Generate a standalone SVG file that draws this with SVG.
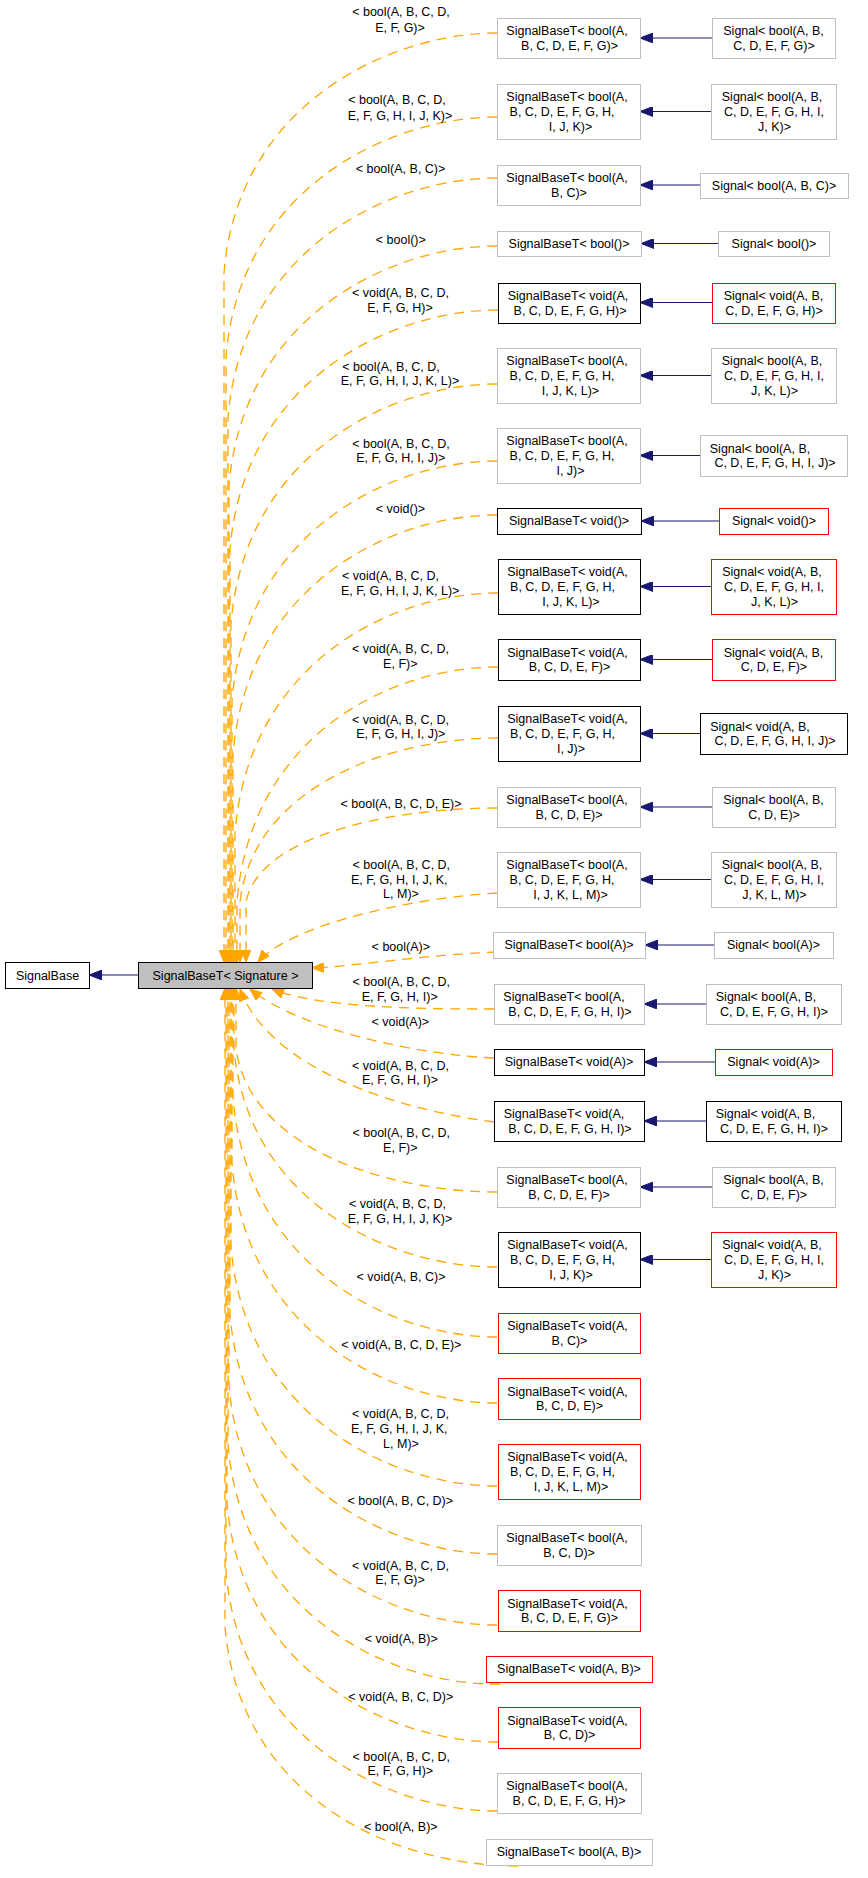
<svg xmlns="http://www.w3.org/2000/svg" width="868" height="1878" viewBox="0 0 868 1878">
<style>
text{font-family:"Liberation Sans",Arial,sans-serif;font-size:12.5px;fill:#000;text-anchor:middle}
rect{fill:#fff;stroke-width:1}
.g rect{stroke:#bfbfbf}
.k rect{stroke:#000}
.r rect{stroke:#ff0000}
.m rect{fill:#bfbfbf;stroke:#000}
.d path{fill:none;stroke:#ffa500;stroke-width:1.3;stroke-dasharray:10,7;marker-end:url(#oa)}
.h path{fill:none;stroke:#191970;stroke-width:1.2;marker-end:url(#na)}
</style>
<defs>
<marker id="oa" viewBox="0 0 12 10" refX="12" refY="5" markerWidth="12" markerHeight="10" orient="auto" markerUnits="userSpaceOnUse"><path d="M0,0 L12,5 L0,10 z" fill="#ffa500" stroke="#ffa500" stroke-width="1"/></marker>
<marker id="na" viewBox="0 0 13 10" refX="13" refY="5" markerWidth="13" markerHeight="10" orient="auto" markerUnits="userSpaceOnUse"><path d="M0,0 L13,5 L0,10 z" fill="#191970" stroke="#191970" stroke-width="1"/></marker>
</defs>
<rect x="0" y="0" width="868" height="1878" fill="#fff" stroke="none"/>
<g id="connectors">
<g class="d">
<path d="M497,33 C389,33 237,105 224,273 L224,962"/>
<path d="M497,117 C389,117 239,189 226,357 L226,962"/>
<path d="M497,178 C389,178 241,250 228,418 L228,962"/>
<path d="M497,246 C389,246 242,318 229,486 L229,962"/>
<path d="M498,310 C389,310 243,382 230,550 L230,962"/>
<path d="M497,384 C389,384 244,456 231,624 L231,962"/>
<path d="M497,461 C389,461 245,533 232,701 L232,962"/>
<path d="M497,515 C389,515 246,587 233,755 L233,962"/>
<path d="M498,593 C389,593 248,665 235,833 L235,962"/>
<path d="M498,667 C389,667 250,737 237,902 L237,962"/>
<path d="M498,738 C389,738 253,787 240,902 L240,962"/>
<path d="M497,808 C389,808 259,836 246,902 L246,962"/>
<path d="M497,893 C410,898 290,925 258,962"/>
<path d="M497,952 C420,955 360,966 312,968"/>
<path d="M494,1009 C420,1009 320,1008 272,989"/>
<path d="M494,1058 C420,1055 300,1030 250,989"/>
<path d="M494,1122 C400,1110 270,1070 240,989"/>
<path d="M497,1192 C389,1192 249,1149 236,1048 L236,988"/>
<path d="M497,1267 C389,1267 247,1201 234,1048 L234,988"/>
<path d="M497,1337 C389,1337 246,1265 233,1097 L233,988"/>
<path d="M497,1403 C389,1403 245,1331 232,1163 L232,988"/>
<path d="M497,1486 C389,1486 244,1414 231,1246 L231,988"/>
<path d="M497,1554 C389,1554 243,1482 230,1314 L230,988"/>
<path d="M497,1625 C389,1625 242,1553 229,1385 L229,988"/>
<path d="M500,1684 C389,1686 241,1612 228,1444 L228,988"/>
<path d="M498,1742 C389,1742 240,1670 227,1502 L227,988"/>
<path d="M497,1811 C389,1811 239,1739 226,1571 L226,988"/>
<path d="M518,1866 C389,1866 238,1794 225,1626 L225,988"/>
</g>
<g class="h">
<path d="M138,975 L89,975"/>
<path d="M712,38 L640,38"/>
<path d="M711,111.5 L640,111.5"/>
<path d="M700,185 L640,185"/>
<path d="M718,243.5 L641,243.5"/>
<path d="M712,302.5 L640,302.5"/>
<path d="M711,375.5 L640,375.5"/>
<path d="M700,455.5 L640,455.5"/>
<path d="M719,521 L641,521"/>
<path d="M711,586.5 L640,586.5"/>
<path d="M712,659.5 L640,659.5"/>
<path d="M700,733.5 L640,733.5"/>
<path d="M712,807 L640,807"/>
<path d="M711,879.5 L640,879.5"/>
<path d="M714,945 L645,945"/>
<path d="M706,1004 L644,1004"/>
<path d="M715,1062 L644,1062"/>
<path d="M706,1121 L644,1121"/>
<path d="M712,1187 L640,1187"/>
<path d="M711,1259.5 L640,1259.5"/>
</g>
<g id="labels">
<text x="401" y="16.2">&lt; bool(A, B, C, D,</text><text x="400" y="31.5">E, F, G)&gt;</text>
<text x="397" y="104.2">&lt; bool(A, B, C, D,</text><text x="400" y="119.5">E, F, G, H, I, J, K)&gt;</text>
<text x="400.5" y="172.8">&lt; bool(A, B, C)&gt;</text>
<text x="400.8" y="243.8">&lt; bool()&gt;</text>
<text x="400.5" y="297.2">&lt; void(A, B, C, D,</text><text x="400" y="311.5">E, F, G, H)&gt;</text>
<text x="391" y="370.5">&lt; bool(A, B, C, D,</text><text x="400" y="385.1">E, F, G, H, I, J, K, L)&gt;</text>
<text x="401" y="447.5">&lt; bool(A, B, C, D,</text><text x="400.8" y="462">E, F, G, H, I, J)&gt;</text>
<text x="400.5" y="512.5">&lt; void()&gt;</text>
<text x="390.5" y="580.3">&lt; void(A, B, C, D,</text><text x="400.2" y="595.3">E, F, G, H, I, J, K, L)&gt;</text>
<text x="400.5" y="652.5">&lt; void(A, B, C, D,</text><text x="400.3" y="667.5">E, F)&gt;</text>
<text x="400.5" y="723.7">&lt; void(A, B, C, D,</text><text x="400.8" y="738.2">E, F, G, H, I, J)&gt;</text>
<text x="401" y="807.8">&lt; bool(A, B, C, D, E)&gt;</text>
<text x="401.3" y="868.8">&lt; bool(A, B, C, D,</text><text x="399.2" y="883.7">E, F, G, H, I, J, K,</text><text x="401" y="898.2">L, M)&gt;</text>
<text x="400.8" y="950.8">&lt; bool(A)&gt;</text>
<text x="401.3" y="985.8">&lt; bool(A, B, C, D,</text><text x="399.7" y="1000.8">E, F, G, H, I)&gt;</text>
<text x="400.3" y="1025.7">&lt; void(A)&gt;</text>
<text x="400.5" y="1069.5">&lt; void(A, B, C, D,</text><text x="400" y="1084.2">E, F, G, H, I)&gt;</text>
<text x="401.3" y="1137">&lt; bool(A, B, C, D,</text><text x="400.3" y="1151.5">E, F)&gt;</text>
<text x="397.5" y="1207.8">&lt; void(A, B, C, D,</text><text x="400" y="1222.5">E, F, G, H, I, J, K)&gt;</text>
<text x="401" y="1281.2">&lt; void(A, B, C)&gt;</text>
<text x="401.3" y="1349.2">&lt; void(A, B, C, D, E)&gt;</text>
<text x="400.5" y="1417.8">&lt; void(A, B, C, D,</text><text x="399.2" y="1432.8">E, F, G, H, I, J, K,</text><text x="401" y="1447.5">L, M)&gt;</text>
<text x="400.3" y="1504.5">&lt; bool(A, B, C, D)&gt;</text>
<text x="400.5" y="1569.5">&lt; void(A, B, C, D,</text><text x="400" y="1584.2">E, F, G)&gt;</text>
<text x="401.3" y="1642.8">&lt; void(A, B)&gt;</text>
<text x="400.8" y="1700.8">&lt; void(A, B, C, D)&gt;</text>
<text x="401.3" y="1760.5">&lt; bool(A, B, C, D,</text><text x="400.3" y="1775.2">E, F, G, H)&gt;</text>
<text x="400.8" y="1831.2">&lt; bool(A, B)&gt;</text>
</g>
</g>
<g id="signalbase" class="k"><rect x="5.5" y="962.5" width="84" height="26"/><text x="47.5" y="979.5">SignalBase</text></g>
<g id="signalbaset" class="m"><rect x="138.5" y="962.5" width="174" height="26"/><text x="225.5" y="979.5">SignalBaseT&lt; Signature &gt;</text></g>

<g id="sbt1" class="g"><rect x="497.5" y="18.5" width="143" height="40"/><text x="567" y="35.1">SignalBaseT&lt; bool(A,</text><text x="569.5" y="49.7">B, C, D, E, F, G)&gt;</text></g>
<g id="s1" class="g"><rect x="712.5" y="18.5" width="123" height="40"/><text x="773.5" y="35.1">Signal&lt; bool(A, B,</text><text x="774" y="49.7">C, D, E, F, G)&gt;</text></g>
<g id="sbt2" class="g"><rect x="497.5" y="84.5" width="143" height="55"/><text x="567" y="101.3">SignalBaseT&lt; bool(A,</text><text x="562" y="115.9">B, C, D, E, F, G, H,</text><text x="570.5" y="130.5">I, J, K)&gt;</text></g>
<g id="s2" class="g"><rect x="711.5" y="84.5" width="125" height="55"/><text x="772" y="101.3">Signal&lt; bool(A, B,</text><text x="774" y="115.9">C, D, E, F, G, H, I,</text><text x="774.5" y="130.5">J, K)&gt;</text></g>
<g id="sbt3" class="g"><rect x="497.5" y="165.5" width="143" height="40"/><text x="567" y="182.1">SignalBaseT&lt; bool(A,</text><text x="569" y="196.7">B, C)&gt;</text></g>
<g id="s3" class="g"><rect x="700.5" y="173.5" width="148" height="25"/><text x="774" y="189.9">Signal&lt; bool(A, B, C)&gt;</text></g>
<g id="sbt4" class="g"><rect x="497.5" y="231.5" width="144" height="25"/><text x="569" y="247.9">SignalBaseT&lt; bool()&gt;</text></g>
<g id="s4" class="g"><rect x="718.5" y="231.5" width="111" height="25"/><text x="774" y="247.9">Signal&lt; bool()&gt;</text></g>
<g id="sbt5" class="k"><rect x="498.5" y="283.5" width="142" height="40"/><text x="568" y="300.1">SignalBaseT&lt; void(A,</text><text x="570" y="314.7">B, C, D, E, F, G, H)&gt;</text></g>
<g id="s5" class="r"><rect x="712.5" y="283.5" width="123" height="40"/><text x="773.5" y="300.1">Signal&lt; void(A, B,</text><text x="774" y="314.7">C, D, E, F, G, H)&gt;</text></g>
<g id="sbt6" class="g"><rect x="497.5" y="348.5" width="143" height="55"/><text x="567" y="365.3">SignalBaseT&lt; bool(A,</text><text x="562" y="379.9">B, C, D, E, F, G, H,</text><text x="570.5" y="394.5">I, J, K, L)&gt;</text></g>
<g id="s6" class="g"><rect x="711.5" y="348.5" width="125" height="55"/><text x="772" y="365.3">Signal&lt; bool(A, B,</text><text x="774" y="379.9">C, D, E, F, G, H, I,</text><text x="774.5" y="394.5">J, K, L)&gt;</text></g>
<g id="sbt7" class="g"><rect x="497.5" y="428.5" width="143" height="55"/><text x="567" y="445.3">SignalBaseT&lt; bool(A,</text><text x="562" y="459.9">B, C, D, E, F, G, H,</text><text x="570.5" y="474.5">I, J)&gt;</text></g>
<g id="s7" class="g"><rect x="700.5" y="435.5" width="147" height="41"/><text x="760" y="452.6">Signal&lt; bool(A, B,</text><text x="775" y="467.2">C, D, E, F, G, H, I, J)&gt;</text></g>
<g id="sbt8" class="k"><rect x="497.5" y="508.5" width="144" height="26"/><text x="569" y="525.4">SignalBaseT&lt; void()&gt;</text></g>
<g id="s8" class="r"><rect x="719.5" y="508.5" width="109" height="26"/><text x="774" y="525.4">Signal&lt; void()&gt;</text></g>
<g id="sbt9" class="k"><rect x="498.5" y="559.5" width="142" height="55"/><text x="567.5" y="576.3">SignalBaseT&lt; void(A,</text><text x="562.5" y="590.9">B, C, D, E, F, G, H,</text><text x="571" y="605.5">I, J, K, L)&gt;</text></g>
<g id="s9" class="r"><rect x="711.5" y="559.5" width="125" height="55"/><text x="772" y="576.3">Signal&lt; void(A, B,</text><text x="774" y="590.9">C, D, E, F, G, H, I,</text><text x="774.5" y="605.5">J, K, L)&gt;</text></g>
<g id="sbt10" class="k"><rect x="498.5" y="639.5" width="142" height="41"/><text x="567.5" y="656.6">SignalBaseT&lt; void(A,</text><text x="569.5" y="671.2">B, C, D, E, F)&gt;</text></g>
<g id="s10" class="r"><rect x="712.5" y="639.5" width="123" height="41"/><text x="773.5" y="656.6">Signal&lt; void(A, B,</text><text x="774" y="671.2">C, D, E, F)&gt;</text></g>
<g id="sbt11" class="k"><rect x="498.5" y="706.5" width="142" height="55"/><text x="567.5" y="723.3">SignalBaseT&lt; void(A,</text><text x="562.5" y="737.9">B, C, D, E, F, G, H,</text><text x="571" y="752.5">I, J)&gt;</text></g>
<g id="s11" class="k"><rect x="700.5" y="713.5" width="147" height="41"/><text x="760" y="730.6">Signal&lt; void(A, B,</text><text x="775" y="745.2">C, D, E, F, G, H, I, J)&gt;</text></g>
<g id="sbt12" class="g"><rect x="497.5" y="787.5" width="143" height="40"/><text x="567" y="804.1">SignalBaseT&lt; bool(A,</text><text x="569" y="818.7">B, C, D, E)&gt;</text></g>
<g id="s12" class="g"><rect x="712.5" y="787.5" width="123" height="40"/><text x="773.5" y="804.1">Signal&lt; bool(A, B,</text><text x="774" y="818.7">C, D, E)&gt;</text></g>
<g id="sbt13" class="g"><rect x="497.5" y="852.5" width="143" height="55"/><text x="567" y="869.3">SignalBaseT&lt; bool(A,</text><text x="562" y="883.9">B, C, D, E, F, G, H,</text><text x="570.5" y="898.5">I, J, K, L, M)&gt;</text></g>
<g id="s13" class="g"><rect x="711.5" y="852.5" width="125" height="55"/><text x="772" y="869.3">Signal&lt; bool(A, B,</text><text x="774" y="883.9">C, D, E, F, G, H, I,</text><text x="774.5" y="898.5">J, K, L, M)&gt;</text></g>
<g id="sbt14" class="g"><rect x="493.5" y="932.5" width="152" height="26"/><text x="569" y="949.4">SignalBaseT&lt; bool(A)&gt;</text></g>
<g id="s14" class="g"><rect x="714.5" y="932.5" width="119" height="26"/><text x="773.5" y="949.4">Signal&lt; bool(A)&gt;</text></g>
<g id="sbt15" class="g"><rect x="494.5" y="984.5" width="150" height="40"/><text x="564" y="1001.1">SignalBaseT&lt; bool(A,</text><text x="570" y="1015.7">B, C, D, E, F, G, H, I)&gt;</text></g>
<g id="s15" class="g"><rect x="706.5" y="984.5" width="135" height="40"/><text x="766" y="1001.1">Signal&lt; bool(A, B,</text><text x="774" y="1015.7">C, D, E, F, G, H, I)&gt;</text></g>
<g id="sbt16" class="k"><rect x="494.5" y="1049.5" width="150" height="26"/><text x="569" y="1066.4">SignalBaseT&lt; void(A)&gt;</text></g>
<g id="s16" class="r"><rect x="715.5" y="1049.5" width="117" height="26"/><text x="773.5" y="1066.4">Signal&lt; void(A)&gt;</text></g>
<g id="sbt17" class="k"><rect x="494.5" y="1101.5" width="150" height="40"/><text x="564" y="1118.1">SignalBaseT&lt; void(A,</text><text x="570" y="1132.7">B, C, D, E, F, G, H, I)&gt;</text></g>
<g id="s17" class="k"><rect x="706.5" y="1101.5" width="135" height="40"/><text x="765.5" y="1118.1">Signal&lt; void(A, B,</text><text x="774" y="1132.7">C, D, E, F, G, H, I)&gt;</text></g>
<g id="sbt18" class="g"><rect x="497.5" y="1167.5" width="143" height="40"/><text x="567" y="1184.1">SignalBaseT&lt; bool(A,</text><text x="569" y="1198.7">B, C, D, E, F)&gt;</text></g>
<g id="s18" class="g"><rect x="712.5" y="1167.5" width="123" height="40"/><text x="773.5" y="1184.1">Signal&lt; bool(A, B,</text><text x="774" y="1198.7">C, D, E, F)&gt;</text></g>
<g id="sbt19" class="k"><rect x="498.5" y="1232.5" width="142" height="55"/><text x="567.5" y="1249.3">SignalBaseT&lt; void(A,</text><text x="562.5" y="1263.9">B, C, D, E, F, G, H,</text><text x="571" y="1278.5">I, J, K)&gt;</text></g>
<g id="s19" class="r"><rect x="711.5" y="1232.5" width="125" height="55"/><text x="772" y="1249.3">Signal&lt; void(A, B,</text><text x="774" y="1263.9">C, D, E, F, G, H, I,</text><text x="774.5" y="1278.5">J, K)&gt;</text></g>
<g id="sbt20" class="r"><rect x="498.5" y="1313.5" width="142" height="40"/><text x="567.5" y="1330.1">SignalBaseT&lt; void(A,</text><text x="569.5" y="1344.7">B, C)&gt;</text></g>
<g id="sbt21" class="r"><rect x="498.5" y="1378.5" width="142" height="41"/><text x="567.5" y="1395.6">SignalBaseT&lt; void(A,</text><text x="569.5" y="1410.2">B, C, D, E)&gt;</text></g>
<g id="sbt22" class="r"><rect x="498.5" y="1444.5" width="142" height="55"/><text x="567.5" y="1461.3">SignalBaseT&lt; void(A,</text><text x="562.5" y="1475.9">B, C, D, E, F, G, H,</text><text x="571" y="1490.5">I, J, K, L, M)&gt;</text></g>
<g id="sbt23" class="g"><rect x="497.5" y="1525.5" width="144" height="40"/><text x="567" y="1542.1">SignalBaseT&lt; bool(A,</text><text x="569" y="1556.7">B, C, D)&gt;</text></g>
<g id="sbt24" class="r"><rect x="498.5" y="1590.5" width="142" height="41"/><text x="567.5" y="1607.6">SignalBaseT&lt; void(A,</text><text x="569.5" y="1622.2">B, C, D, E, F, G)&gt;</text></g>
<g id="sbt25" class="r"><rect x="486.5" y="1656.5" width="166" height="26"/><text x="569" y="1673.4">SignalBaseT&lt; void(A, B)&gt;</text></g>
<g id="sbt26" class="r"><rect x="498.5" y="1707.5" width="142" height="41"/><text x="567.5" y="1724.6">SignalBaseT&lt; void(A,</text><text x="569.5" y="1739.2">B, C, D)&gt;</text></g>
<g id="sbt27" class="g"><rect x="497.5" y="1773.5" width="144" height="40"/><text x="567" y="1790.1">SignalBaseT&lt; bool(A,</text><text x="569" y="1804.7">B, C, D, E, F, G, H)&gt;</text></g>
<g id="sbt28" class="g"><rect x="486.5" y="1839.5" width="166" height="26"/><text x="569" y="1856.4">SignalBaseT&lt; bool(A, B)&gt;</text></g>
</svg>
